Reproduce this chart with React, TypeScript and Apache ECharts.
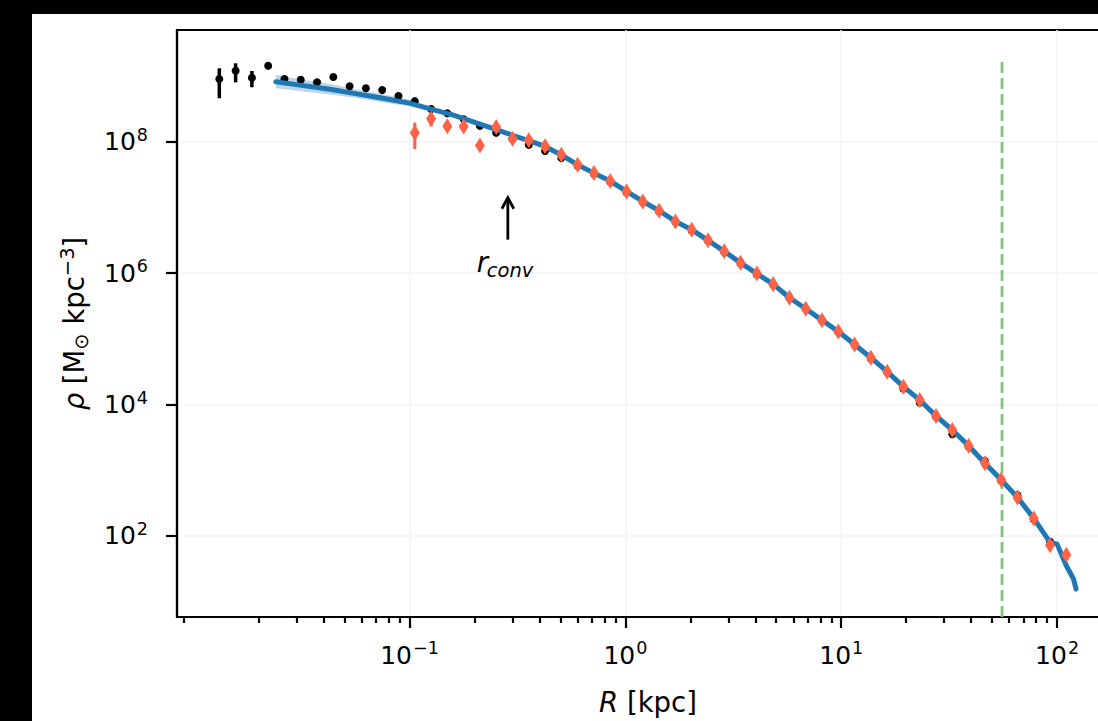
import React, { useEffect, useRef } from 'react';
import * as echarts from 'echarts';

const FONT = "'DejaVu Sans', sans-serif";

// radial bins [kpc]
const radius = [0.01315, 0.01565, 0.01862, 0.02215, 0.02635, 0.03135, 0.0373, 0.04438, 0.0528, 0.06282, 0.07474, 0.08893, 0.1058, 0.1259, 0.1497, 0.1782, 0.212, 0.2522, 0.3001, 0.357, 0.4248, 0.5054, 0.6013, 0.7155, 0.8513, 1.0128, 1.205, 1.434, 1.706, 2.03, 2.415, 2.873, 3.418, 4.067, 4.838, 5.757, 6.849, 8.147, 9.694, 11.53, 13.72, 16.32, 19.42, 23.11, 27.49, 32.71, 38.91, 46.3, 55.09, 65.54, 77.98, 92.77, 110.4];

// black points (bins 0..51)
const blackRho = [9.06e8, 1.213e9, 9.48e8, 1.445e9, 9.06e8, 8.85e8, 8.07e8, 9.73e8, 7.03e8, 6.55e8, 6.17e8, 5.0e8, 4.17e8, 3.16e8, 2.73e8, 2.21e8, 1.75e8, 1.38e8, 1.11e8, 9.0e7, 7.24e7, 5.65e7, 4.27e7, 3.24e7, 2.45e7, 1.7e7, 1.2e7, 8.71e6, 6.03e6, 4.47e6, 3.09e6, 2.09e6, 1.41e6, 9.55e5, 6.61e5, 4.17e5, 2.82e5, 1.91e5, 1.26e5, 8.13e4, 5.01e4, 3.09e4, 1.74e4, 1.07e4, 6.46e3, 3.52e3, 2.29e3, 1.38e3, 6.92e2, 4.17e2, 1.78e2, 81.3];
const blackErrR = [0.01315, 0.01565, 0.01862];
const blackErrLo = [4.61e8, 8.07e8, 6.78e8];
const blackErrHi = [1.318e9, 1.57e9, 1.199e9];

// red diamonds (bins 12..52)
const redStart = 12;
const redRho = [1.371e8, 2.254e8, 1.734e8, 1.71e8, 8.79e7, 1.69e8, 1.112e8, 1.062e8, 8.55e7, 6.34e7, 4.47e7, 3.34e7, 2.53e7, 1.758e7, 1.239e7, 8.93e6, 6.15e6, 4.6e6, 3.16e6, 2.15e6, 1.436e6, 9.86e5, 6.81e5, 4.22e5, 2.87e5, 1.928e5, 1.294e5, 8.22e4, 5.16e4, 3.16e4, 1.871e4, 1.169e4, 6.68e3, 4.1e3, 2.36e3, 1.276e3, 7.13e2, 3.85e2, 1.845e2, 71.8, 51.4];
const redErrR = [0.1058, 0.1259];
const redErrLo = [7.74e7, 1.71e8];
const redErrHi = [1.963e8, 2.76e8];

// fitted profile
const fitR = [0.02404, 0.03162, 0.04276, 0.05623, 0.07534, 0.1, 0.1259, 0.1585, 0.2118, 0.2512, 0.2999, 0.3573, 0.4246, 0.5058, 0.6013, 0.7155, 0.8513, 1.0128, 1.205, 1.434, 1.706, 2.03, 2.415, 2.873, 3.418, 4.067, 4.838, 5.757, 6.849, 8.147, 9.694, 11.53, 13.72, 16.32, 19.42, 23.11, 27.49, 32.71, 38.91, 46.3, 55.09, 65.54, 77.98, 92.77, 100, 110.4, 119.2, 122.5];
const fitRho = [8.24e8, 7.24e8, 6.31e8, 5.43e8, 4.61e8, 3.89e8, 3.16e8, 2.57e8, 1.862e8, 1.549e8, 1.259e8, 1.047e8, 8.51e7, 6.31e7, 4.47e7, 3.34e7, 2.53e7, 1.758e7, 1.239e7, 8.93e6, 6.15e6, 4.6e6, 3.16e6, 2.15e6, 1.436e6, 9.86e5, 6.81e5, 4.22e5, 2.87e5, 1.928e5, 1.294e5, 8.22e4, 5.16e4, 3.16e4, 1.871e4, 1.169e4, 6.68e3, 4.1e3, 2.36e3, 1.276e3, 7.13e2, 3.85e2, 1.845e2, 79.4, 74.8, 35.0, 22.0, 15.5];

// uncertainty band of the fit (inner part)
const bandR = [0.02404, 0.03162, 0.04276, 0.05623, 0.07534, 0.1, 0.1259, 0.1445];
const bandLo = [6.55e8, 5.89e8, 5.25e8, 4.68e8, 3.98e8, 3.47e8, 2.95e8, 2.75e8];
const bandHi = [1.042e9, 8.91e8, 7.59e8, 6.31e8, 5.31e8, 4.37e8, 3.39e8, 2.88e8];

// vertical dashed marker
const rMark = 55.6;
const rMarkTop = 1.64e9;
const rMarkBottom = 1;

// r_conv annotation
const rConv = 0.2855;
const arrowTail = 3.24e6;
const arrowHead = 1.41e7;
const labelRho = 1.47e6;

// ticks
const xMajor = [0.1, 1, 10, 100];
const xMinor = [0.009, 0.02, 0.03, 0.04, 0.05, 0.06, 0.07, 0.08, 0.09, 0.2, 0.3, 0.4, 0.5, 0.6, 0.7, 0.8, 0.9, 2, 3, 4, 5, 6, 7, 8, 9, 20, 30, 40, 50, 60, 70, 80, 90];
const yMajor = [1e2, 1e4, 1e6, 1e8];

const xMin = 0.008375;
const xMax = 193.6;
const yMin = 5.81;
const yMax = 5.05e9;

const supFmt = (v: number) => {
  const e = Math.round(Math.log10(v));
  return `{b|10}{s|${e < 0 ? '\u2212' + -e : e}}`;
};

const tickRich = {
  b: { fontSize: 25, fontFamily: FONT, color: '#000', lineHeight: 32 },
  s: { fontSize: 17.5, fontFamily: FONT, color: '#000', lineHeight: 17, verticalAlign: 'top', padding: [0, 0, 0, 1] },
};

export default function App() {
  const ref = useRef<HTMLDivElement>(null);
  useEffect(() => {
    if (!ref.current) return;
    const chart = echarts.init(ref.current, null, { renderer: 'svg' });
    const tickLine = { color: '#000', width: 2.2 };
    const option: any = {
      animation: false,
      backgroundColor: '#fff',
      textStyle: { fontFamily: FONT },
      grid: { left: 145, right: 43, top: 16, bottom: 103, show: true, borderColor: '#000', borderWidth: 2.2, backgroundColor: 'transparent' },
      xAxis: [
        {
          type: 'log', logBase: 10, min: xMin, max: xMax, position: 'bottom',
          name: '{i|R} [kpc]', nameLocation: 'middle', nameGap: 71,
          nameTextStyle: { fontSize: 27.5, fontFamily: FONT, color: '#000', rich: { i: { fontSize: 27.5, fontStyle: 'italic', fontFamily: FONT, color: '#000' } } },
          axisLine: { show: true, onZero: false, lineStyle: tickLine },
          axisTick: { show: true, customValues: xMajor, length: 11, lineStyle: tickLine },
          axisLabel: { customValues: xMajor, formatter: supFmt, rich: tickRich, margin: 22 },
          splitLine: { show: true, lineStyle: { color: '#f3f3f3', width: 1.5 } },
        },
        {
          type: 'log', logBase: 10, min: xMin, max: xMax, position: 'bottom',
          axisLine: { show: false },
          axisTick: { show: true, customValues: xMinor, length: 6, lineStyle: tickLine },
          axisLabel: { show: false },
          splitLine: { show: false },
        },
      ],
      yAxis: {
        type: 'log', logBase: 10, min: yMin, max: yMax,
        name: '{i|\u03c1} [M{sub|\u2299} kpc{sup|\u22123}]', nameLocation: 'middle', nameGap: 86, nameRotate: 90,
        nameTextStyle: {
          fontSize: 27.5, fontFamily: FONT, color: '#000', lineHeight: 34,
          rich: {
            i: { fontSize: 27.5, fontStyle: 'italic', fontFamily: FONT, color: '#000', lineHeight: 34 },
            sub: { fontSize: 19.5, fontFamily: FONT, color: '#000', lineHeight: 18, verticalAlign: 'bottom' },
            sup: { fontSize: 19.5, fontFamily: FONT, color: '#000', lineHeight: 18, verticalAlign: 'top' },
          },
        },
        axisLine: { show: true, onZero: false, lineStyle: tickLine },
        axisTick: { show: true, customValues: yMajor, length: 11, lineStyle: tickLine },
        axisLabel: { customValues: yMajor, formatter: supFmt, rich: tickRich, margin: 29 },
        splitLine: { show: true, lineStyle: { color: '#f3f3f3', width: 1.5 } },
      },
      series: [
        {
          type: 'line', name: 'r200', data: [[rMark, rMarkTop], [rMark, rMarkBottom]],
          symbol: 'none', clip: true, lineStyle: { color: '#80c680', width: 2.8, type: [11, 5] }, z: 1,
        },
        {
          type: 'custom', name: 'band', data: [[bandR[0], bandLo[0]]], clip: true, z: 2,
          renderItem: (_p: any, api: any) => {
            const up = bandR.map((r, i) => api.coord([r, bandHi[i]]));
            const lo = bandR.map((r, i) => api.coord([r, bandLo[i]])).reverse();
            return { type: 'polygon', shape: { points: up.concat(lo) }, style: { fill: 'rgba(31,119,180,0.3)', stroke: 'none' } };
          },
        },
        {
          type: 'custom', name: 'black err', data: blackErrR.map((r, i) => [r, blackErrLo[i], blackErrHi[i]]),
          encode: { x: 0, y: [1, 2] }, z: 3,
          renderItem: (_p: any, api: any) => {
            const a = api.coord([api.value(0), api.value(1)]);
            const b = api.coord([api.value(0), api.value(2)]);
            return { type: 'line', shape: { x1: a[0], y1: a[1], x2: b[0], y2: b[1] }, style: { stroke: '#000', lineWidth: 3.5 } };
          },
        },
        {
          type: 'scatter', name: 'black', data: blackRho.map((v, i) => [radius[i], v]),
          symbol: 'circle', symbolSize: 8, itemStyle: { color: '#000', opacity: 1 }, z: 3,
        },
        {
          type: 'line', name: 'fit', data: fitR.map((r, i) => [r, fitRho[i]]),
          symbol: 'none', lineStyle: { color: '#1f77b4', width: 5, join: 'round', cap: 'round' }, z: 4,
        },
        {
          type: 'custom', name: 'red err', data: redErrR.map((r, i) => [r, redErrLo[i], redErrHi[i]]),
          encode: { x: 0, y: [1, 2] }, z: 5,
          renderItem: (_p: any, api: any) => {
            const a = api.coord([api.value(0), api.value(1)]);
            const b = api.coord([api.value(0), api.value(2)]);
            return { type: 'line', shape: { x1: a[0], y1: a[1], x2: b[0], y2: b[1] }, style: { stroke: '#ff6347', lineWidth: 3.2 } };
          },
        },
        {
          type: 'scatter', name: 'red', data: redRho.map((v, i) => [radius[i + redStart], v]),
          symbol: 'diamond', symbolSize: [10, 16], itemStyle: { color: '#ff6347', opacity: 1 }, z: 5,
        },
        {
          type: 'custom', name: 'rconv', data: [[rConv, arrowTail, arrowHead, labelRho]],
          encode: { x: 0, y: [1, 2, 3] }, z: 6, clip: false,
          renderItem: (_p: any, api: any) => {
            const t = api.coord([api.value(0), api.value(1)]);
            const h = api.coord([api.value(0), api.value(2)]);
            const l = api.coord([api.value(0), api.value(3)]);
            return {
              type: 'group',
              children: [
                { type: 'line', shape: { x1: t[0], y1: t[1], x2: h[0], y2: h[1] + 1 }, style: { stroke: '#000', lineWidth: 2.8 } },
                { type: 'polyline', shape: { points: [[h[0] - 6, h[1] + 11], [h[0], h[1]], [h[0] + 6, h[1] + 11]] }, style: { stroke: '#000', lineWidth: 2.8, fill: 'none' } },
                { type: 'text', x: l[0] - 31, y: l[1], style: { text: 'r', fontSize: 27.5, fontStyle: 'italic', fontFamily: FONT, fill: '#000', align: 'left', verticalAlign: 'middle' } },
                { type: 'text', x: l[0] - 21, y: l[1] + 8, style: { text: 'conv', fontSize: 19.5, fontStyle: 'italic', fontFamily: FONT, fill: '#000', align: 'left', verticalAlign: 'middle' } },
              ],
            };
          },
        },
      ],
    };
    chart.setOption(option);
    return () => chart.dispose();
  }, []);
  return (
    <div style={{ position: 'fixed', left: 0, top: 0, width: 1098, height: 721, overflow: 'hidden', background: '#000' }}>
      <div ref={ref} style={{ position: 'absolute', left: 32, top: 14, width: 1130, height: 707, background: '#fff' }} />
    </div>
  );
}
